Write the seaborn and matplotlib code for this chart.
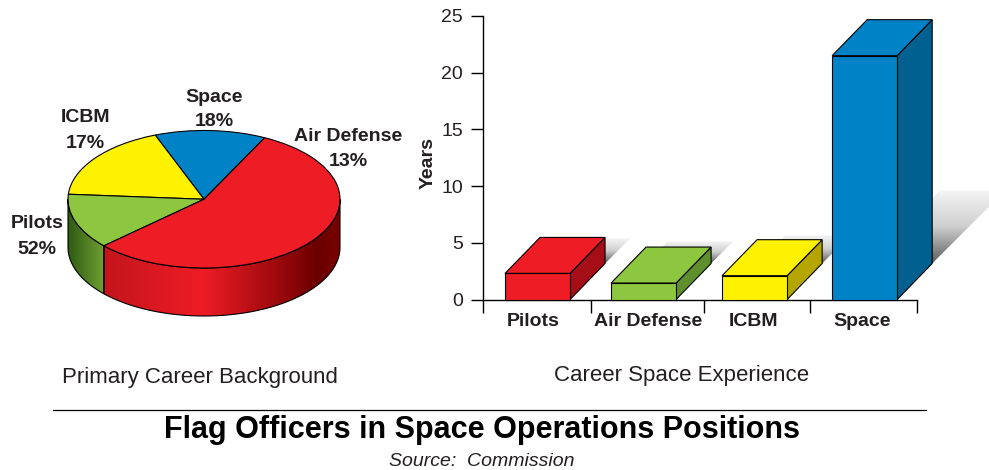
import numpy as np
import seaborn as sns
import matplotlib.pyplot as plt
from matplotlib.colors import LinearSegmentedColormap
from matplotlib.patches import Polygon

# Pie data: shares as drawn, going counterclockwise from the blue slice
pie_names = ['Space', 'ICBM', 'Pilots', 'Air Defense']
pie_drawn_shares = [13.2, 18.0, 13.0, 55.8]
pie_labels = ['18%', '17%', '52%', '13%']
pie_colors = ['#0083C6', '#FFF200', '#8DC63F', '#EE1C25']

# Bar data
categories = ['Pilots', 'Air Defense', 'ICBM', 'Space']
years = [2.3, 1.45, 2.1, 21.5]
year_ticks = [0, 5, 10, 15, 20, 25]
front_colors = ['#EE1C25', '#8DC63F', '#FFF200', '#0083C6']
side_colors = ['#A50E16', '#5F8F2C', '#B5A500', '#00608F']

W, H = 989, 470
DARK = '#231F20'


def px_rect(x0, y0, x1, y1):
    # pixel box (y from the top) to figure fractions
    return [x0 / W, 1 - y1 / H, (x1 - x0) / W, (y1 - y0) / H]


def label(x, y, s, **kw):
    fig.text(x / W, 1 - y / H, s, ha='center', va='center', color=kw.pop('color', 'black'), **kw)


def gradient_fill(ax, poly, extent, values, cmap, zorder):
    poly.set_clip_on(False)
    ax.add_patch(poly)
    img = ax.imshow(values, extent=extent, cmap=cmap, vmin=0, vmax=1, aspect='auto',
                    origin='lower', zorder=zorder, interpolation='bilinear')
    # only the polygon clips, the faces run outside the axes box
    img.set_clip_box(fig.bbox)
    img.set_clip_path(poly)


sns.set_theme(style='white')
plt.rcParams['font.family'] = ['Liberation Sans', 'DejaVu Sans']

fig = plt.figure(figsize=(W / 100, H / 100), dpi=100)

# ---- 3D pie ----
ax_pie = fig.add_axes(px_rect(68, 130.5, 340, 268), zorder=2)
start = 63.5
wedges, _ = ax_pie.pie(pie_drawn_shares, colors=pie_colors, startangle=start, counterclock=True,
                       radius=1, wedgeprops={'edgecolor': 'black', 'linewidth': 0.8, 'zorder': 5})
ax_pie.set_aspect('auto')
thick = 48.0 / 68.75

edges = start + np.cumsum(pie_drawn_shares) * 3.6
green_start, green_end = edges[1], edges[2]


def wall(a0, a1):
    t = np.radians(np.linspace(a0, a1, 120))
    top = np.column_stack([np.cos(t), np.sin(t)])
    bottom = top[::-1] - [0, thick]
    return np.vstack([top, bottom])


red_map = LinearSegmentedColormap.from_list('red_wall', [(0, '#C4151C'), (0.42, '#EE1C25'),
                                                         (0.8, '#8A0508'), (0.9, '#6A0000'), (1, '#7A0202')])
green_map = LinearSegmentedColormap.from_list('green_wall', ['#2F5A12', '#6FA033'])

for a0, a1, cmap in [(green_start, green_end, green_map), (green_end, 360, red_map)]:
    verts = wall(max(a0, 180), a1)
    x0, x1 = verts[:, 0].min(), verts[:, 0].max()
    poly = Polygon(verts, closed=True, facecolor='none', edgecolor='black', linewidth=0.8, zorder=4)
    gradient_fill(ax_pie, poly, [x0, x1, -1 - thick, 0], np.linspace(0, 1, 256).reshape(1, -1), cmap, 3)

ax_pie.set_xlim(-1, 1)
ax_pie.set_ylim(-1, 1)

pie_text = {'Space': (214, 97, 121), 'ICBM': (85, 118, 143),
            'Air Defense': (348, 136.5, 162), 'Pilots': (37, 224, 250)}
for name, pct in zip(pie_names, pie_labels):
    x, y_name, y_pct = pie_text[name]
    label(x, y_name, name, fontsize=14, fontweight='bold', color=DARK)
    label(x, y_pct, pct, fontsize=14, fontweight='bold', color=DARK)

# ---- 3D bars ----
ax = fig.add_axes(px_rect(483, 16, 917, 299.5))
sns.barplot(x=categories, y=years, hue=categories, palette=front_colors, hue_order=categories,
            width=65 / 109, saturation=1, legend=False, edgecolor='black', linewidth=0.8,
            zorder=4, clip_on=False, ax=ax)

units_x = 1 / 109
units_y = 25 / 283.5
depth_x, depth_y = 35 * units_x, 36 * units_y
nudges = [0, -3 * units_x, -1 * units_x, 0]
shadow_px = [25, 22, 28, 73]
shadow_map = LinearSegmentedColormap.from_list('shadow', ['#F4F4F4', '#CFCFCF', '#5E5E5E'])

bars = sorted(ax.patches, key=lambda b: b.get_x())
for bar, nudge, side, shadow, top_color in zip(bars, nudges, side_colors, shadow_px, front_colors):
    bar.set_x(bar.get_x() + nudge)
    x0, x1, h = bar.get_x(), bar.get_x() + bar.get_width(), bar.get_height()
    # soft shadow on the wall behind the bar
    sx, sy = shadow * units_x, shadow * units_y
    verts = [(x0 + depth_x, depth_y), (x1 + depth_x, depth_y),
             (x1 + depth_x + sx, depth_y + sy), (x0 + depth_x + sx, depth_y + sy)]
    poly = Polygon(verts, closed=True, facecolor='none', edgecolor='none', zorder=1)
    gradient_fill(ax, poly, [x0 + depth_x, x1 + depth_x + sx, depth_y, depth_y + sy],
                  np.linspace(1, 0, 64).reshape(-1, 1), shadow_map, 1)
    # top and side faces of the block
    ax.add_patch(Polygon([(x1, 0), (x1 + depth_x, depth_y), (x1 + depth_x, h + depth_y), (x1, h)],
                         facecolor=side, edgecolor='black', linewidth=0.8, zorder=3, clip_on=False))
    ax.add_patch(Polygon([(x0, h), (x1, h), (x1 + depth_x, h + depth_y), (x0 + depth_x, h + depth_y)],
                         facecolor=top_color, edgecolor='black', linewidth=0.8, zorder=3, clip_on=False))

ax.set_xlim(-0.5, 3.48)
ax.set_ylim(0, 25)
ax.patch.set_alpha(0)

sns.despine(ax=ax)
for s in ['left', 'bottom']:
    ax.spines[s].set_color('black')
    ax.spines[s].set_linewidth(1.0)

ax.set_yticks(year_ticks)
ax.set_yticklabels([str(v) for v in year_ticks], fontsize=14, color=DARK)
ax.set_xticks([-0.5, 0.49, 1.53, 2.5, 3.48])
ax.set_xticklabels([])
ax.set_xticks([-0.04, 1.01, 1.98, 2.98], minor=True)
ax.set_xticklabels(categories, minor=True, fontsize=14, fontweight='bold', color=DARK)
ax.tick_params(axis='y', left=True, length=8.5, width=1.0, pad=6, color='black')
ax.tick_params(axis='x', which='major', bottom=True, length=9, width=1.0, color='black')
ax.tick_params(axis='x', which='minor', bottom=False, length=0, pad=10)
ax.set_xlabel('')
ax.set_ylabel('')
label(428, 163, 'Years', fontsize=14, fontweight='bold', rotation=90, color=DARK)

# ---- captions ----
label(200, 377, 'Primary Career Background', fontsize=16, color=DARK)
label(682, 376, 'Career Space Experience', fontsize=16, color=DARK)
fig.add_artist(plt.Line2D([53 / W, 926 / W], [1 - 409.5 / H] * 2, color='black', linewidth=0.9))
label(482, 430, 'Flag Officers in Space Operations Positions', fontsize=22, fontweight='bold')
label(482, 461, 'Source:  Commission', fontsize=14, fontstyle='italic', color=DARK)

fig.savefig('out.png', dpi=100)
